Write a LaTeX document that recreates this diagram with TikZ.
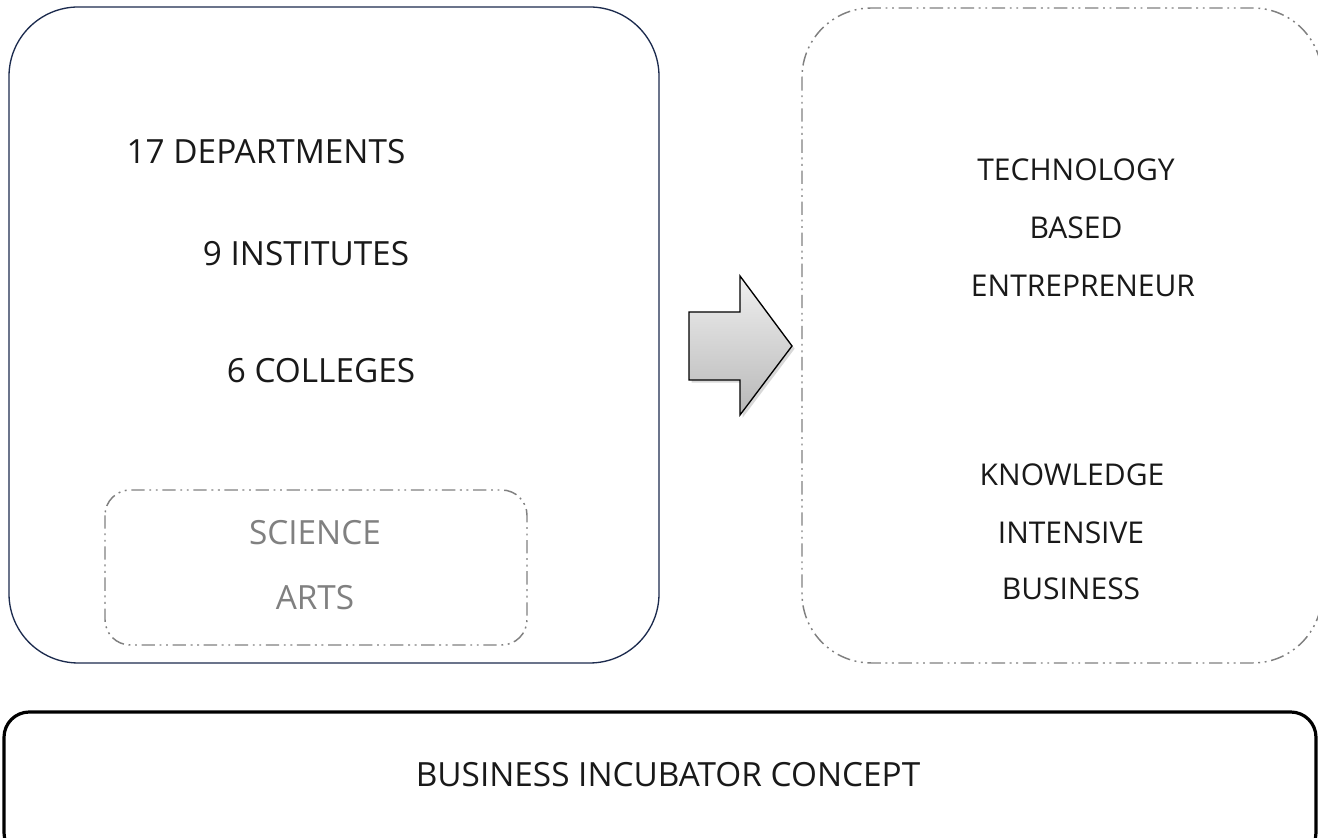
\documentclass[tikz,border=0pt]{standalone}
\usepackage{fontspec}
\setmainfont{Open Sans}
\usetikzlibrary{shadows}
\definecolor{navyline}{RGB}{28,43,78}
\definecolor{dashgray}{RGB}{128,128,128}
\begin{document}
\begin{tikzpicture}[
  x=0.75pt, y=0.75pt,
  lbl/.style={font=\fontsize{25}{28}\selectfont, text=black!90, inner sep=0pt},
  smalllbl/.style={lbl, font=\fontsize{22.5}{26}\selectfont},
  softlbl/.style={lbl, text=dashgray},
  unibox/.style={draw=navyline, line width=1pt, rounded corners=52pt},
  dashbox/.style={draw=dashgray, line width=1.1pt,
    dash pattern=on 10pt off 3.5pt on 1.4pt off 3.5pt on 1.4pt off 3.5pt},
  basebox/.style={draw=black, line width=2.4pt, rounded corners=19pt},
  blockarrow/.style={draw=black, line width=1pt, top color=black!6,
    bottom color=black!28,
    drop shadow={opacity=0.3, shadow xshift=2pt, shadow yshift=-2pt}},
]
\clip (0,0) rectangle (1318,838);
\fill[white] (0,0) rectangle (1318,838);

% university side
\draw[unibox] (9,831) rectangle (659,175);
\draw[dashbox, rounded corners=19pt] (105,348) rectangle (527,193);
\node[lbl] (dept) at (266,686) {17 DEPARTMENTS};
\node[lbl] (inst) at (306,584) {9 INSTITUTES};
\node[lbl] (coll) at (321,467) {6 COLLEGES};
\node[softlbl] (sci) at (315,305) {SCIENCE};
\node[softlbl] (arts) at (315,240) {ARTS};

% block arrow
\path[blockarrow] (689,526) -- (740,526) -- (740,562) -- (792,492)
  -- (740,423) -- (740,458) -- (689,458) -- cycle;

% outcome side
\draw[dashbox, rounded corners=52pt] (802,830) rectangle (1322,175);
\node[smalllbl] (tech) at (1076,668) {TECHNOLOGY};
\node[smalllbl] (based) at (1076,610) {BASED};
\node[smalllbl] (entr) at (1083,552) {ENTREPRENEUR};
\node[smalllbl] (know) at (1072,363) {KNOWLEDGE};
\node[smalllbl] (inten) at (1071,305) {INTENSIVE};
\node[smalllbl] (busi) at (1071,249) {BUSINESS};

% concept bar
\draw[basebox] (4,126) rectangle (1316,-20);
\node[lbl] (concept) at (668,63) {BUSINESS INCUBATOR CONCEPT};
\end{tikzpicture}
\end{document}
